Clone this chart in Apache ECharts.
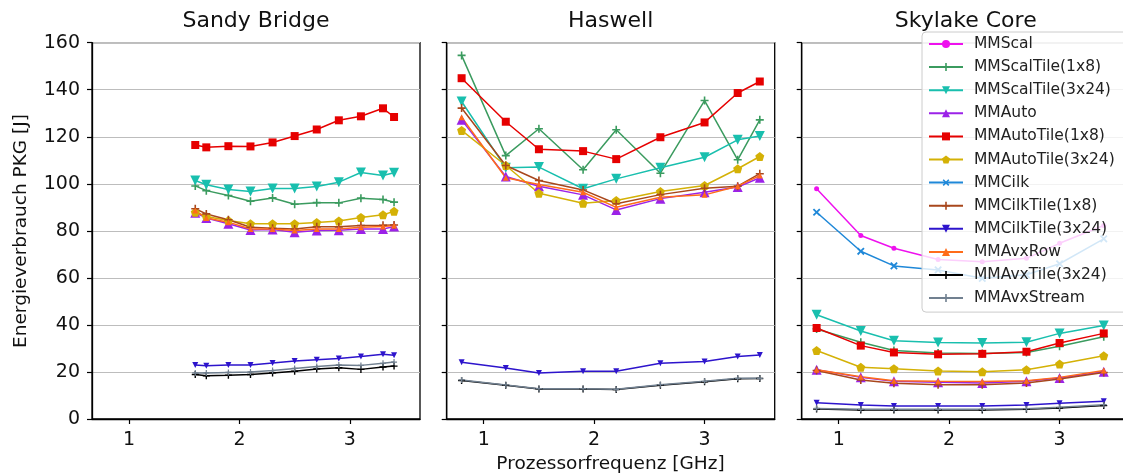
<!DOCTYPE html>
<html>
<head>
<meta charset="utf-8">
<script src="https://cdn.jsdelivr.net/npm/echarts@6/dist/echarts.min.js"></script>
<style>
html,body{margin:0;padding:0;background:#fff;}
#chart{width:1123px;height:475px;}
</style>
</head>
<body>
<div id="chart"></div>
<script>
// ---------- DATA ----------
const panelTitles = ["Sandy Bridge", "Haswell", "Skylake Core"];
const xTicks = [1, 2, 3];
const yTicks = [0, 20, 40, 60, 80, 100, 120, 140, 160];
const seriesNames = ["MMScal", "MMScalTile(1x8)", "MMScalTile(3x24)", "MMAuto", "MMAutoTile(1x8)",
  "MMAutoTile(3x24)", "MMCilk", "MMCilkTile(1x8)", "MMCilkTile(3x24)", "MMAvxRow", "MMAvxTile(3x24)", "MMAvxStream"];

// Sandy Bridge
const sandyFreq = [1.6, 1.7, 1.9, 2.1, 2.3, 2.5, 2.7, 2.9, 3.1, 3.3, 3.4];
const sandyScalTile1x8 = [99.1, 97.1, 95.0, 92.6, 94.0, 91.3, 92.0, 91.9, 93.9, 93.3, 92.2];
const sandyScalTile3x24 = [101.4, 99.6, 97.6, 96.7, 98.0, 98.0, 98.9, 100.7, 104.8, 103.5, 104.7];
const sandyAuto = [87.7, 85.5, 83.0, 80.4, 80.6, 79.4, 80.1, 80.3, 80.8, 80.8, 81.8];
const sandyAutoTile1x8 = [116.5, 115.5, 116.0, 115.9, 117.6, 120.3, 123.1, 127.0, 128.7, 132.1, 128.4];
const sandyAutoTile3x24 = [87.9, 86.1, 84.4, 83.0, 83.0, 83.0, 83.5, 84.2, 85.7, 86.8, 88.3];
const sandyCilkTile1x8 = [89.4, 87.2, 84.7, 81.5, 81.1, 80.8, 81.7, 81.7, 82.3, 82.4, 82.5];
const sandyCilkTile3x24 = [23.0, 22.6, 23.0, 23.0, 23.8, 24.7, 25.2, 25.7, 26.6, 27.5, 27.1];
const sandyAvxRow = [88.6, 85.5, 83.7, 80.8, 80.8, 80.1, 80.8, 80.8, 81.5, 81.8, 82.3];
const sandyAvxTile3x24 = [18.9, 18.4, 18.6, 18.9, 19.6, 20.3, 21.3, 21.8, 21.1, 22.1, 22.5];
const sandyAvxStream = [19.6, 19.6, 19.8, 20.0, 20.6, 21.5, 22.3, 23.0, 22.8, 23.7, 24.2];

// Haswell
const haswellFreq = [0.8, 1.2, 1.5, 1.9, 2.2, 2.6, 3.0, 3.3, 3.5];
const haswellScalTile1x8 = [154.6, 112.0, 123.4, 106.0, 123.0, 104.5, 135.4, 110.2, 127.2];
const haswellScalTile3x24 = [135.0, 106.8, 107.1, 97.9, 102.1, 106.8, 111.3, 118.7, 120.3];
const haswellAuto = [127.2, 103.1, 99.0, 95.3, 88.9, 93.7, 96.4, 98.6, 102.6];
const haswellAutoTile1x8 = [144.9, 126.4, 114.7, 113.9, 110.5, 119.8, 126.1, 138.6, 143.5];
const haswellAutoTile3x24 = [122.7, 107.8, 96.0, 91.7, 92.9, 96.7, 99.3, 106.4, 111.6];
const haswellCilkTile1x8 = [132.2, 107.8, 101.4, 97.4, 91.5, 95.4, 98.1, 99.0, 104.3];
const haswellCilkTile3x24 = [24.1, 21.7, 19.6, 20.3, 20.3, 23.7, 24.4, 26.6, 27.2];
const haswellAvxRow = [128.3, 102.6, 99.7, 96.4, 90.0, 94.3, 95.3, 99.0, 103.5];
const haswellAvxTile3x24 = [16.4, 14.3, 12.8, 12.8, 12.5, 14.4, 15.8, 17.1, 17.2];
const haswellAvxStream = [16.6, 14.5, 12.9, 12.9, 12.6, 14.6, 16.0, 17.3, 17.3];

// Skylake Core
const skylakeFreq = [0.8, 1.2, 1.5, 1.9, 2.3, 2.7, 3.0, 3.4];
const skylakeScal = [97.9, 78.0, 72.6, 67.8, 66.9, 68.3, 74.7, 82.3];
const skylakeScalTile1x8 = [38.3, 32.6, 29.1, 28.1, 27.9, 28.3, 30.9, 35.0];
const skylakeScalTile3x24 = [44.3, 37.4, 33.3, 32.5, 32.3, 32.6, 36.4, 39.8];
const skylakeAuto = [20.9, 17.7, 16.0, 15.6, 15.3, 16.0, 17.4, 20.1];
const skylakeAutoTile1x8 = [38.7, 31.2, 28.3, 27.5, 27.7, 28.6, 32.3, 36.4];
const skylakeAutoTile3x24 = [29.1, 22.0, 21.4, 20.4, 20.1, 20.9, 23.4, 26.9];
const skylakeCilk = [87.9, 71.3, 65.1, 63.4, 59.8, 61.3, 66.0, 76.6];
const skylakeCilkTile1x8 = [20.6, 16.6, 15.2, 14.6, 14.6, 15.3, 17.0, 19.8];
const skylakeCilkTile3x24 = [6.9, 6.0, 5.5, 5.5, 5.5, 6.0, 6.7, 7.5];
const skylakeAvxRow = [20.9, 18.0, 16.3, 16.0, 15.9, 16.3, 17.7, 20.6];
const skylakeAvxTile3x24 = [4.2, 3.8, 3.8, 3.8, 3.8, 4.1, 4.7, 5.7];
const skylakeAvxStream = [4.5, 4.1, 4.1, 4.1, 4.1, 4.4, 5.0, 6.1];

// ---------- STYLES ----------
const FONT = "DejaVu Sans";
const PLUS = 'path://M4,0H6V4H10V6H6V10H4V6H0V4H4Z';
const PENTA = 'path://M5,0L10,3.8L8.1,10L1.9,10L0,3.8Z';
const styles = {
  "MMScal":           {color: '#ee11ee', symbol: 'circle', size: 5, rot: 0},
  "MMScalTile(1x8)":  {color: '#3b9b5f', symbol: PLUS, size: 8, rot: 0},
  "MMScalTile(3x24)": {color: '#19bfae', symbol: 'triangle', size: 10, rot: 180},
  "MMAuto":           {color: '#9b22e8', symbol: 'triangle', size: 10, rot: 0},
  "MMAutoTile(1x8)":  {color: '#e60000', symbol: 'rect', size: 8, rot: 0},
  "MMAutoTile(3x24)": {color: '#d4b106', symbol: PENTA, size: 9, rot: 0},
  "MMCilk":           {color: '#1f88d8', symbol: PLUS, size: 9, rot: 45},
  "MMCilkTile(1x8)":  {color: '#a8471c', symbol: PLUS, size: 8, rot: 0},
  "MMCilkTile(3x24)": {color: '#2d14cc', symbol: 'triangle', size: 6, rot: 180},
  "MMAvxRow":         {color: '#ff6c1a', symbol: 'triangle', size: 6, rot: 0},
  "MMAvxTile(3x24)":  {color: '#000000', symbol: PLUS, size: 7, rot: 0},
  "MMAvxStream":      {color: '#718090', symbol: PLUS, size: 6, rot: 0}
};

const panels = [
  {freq: sandyFreq, vals: {
    "MMScalTile(1x8)": sandyScalTile1x8, "MMScalTile(3x24)": sandyScalTile3x24, "MMAuto": sandyAuto,
    "MMAutoTile(1x8)": sandyAutoTile1x8, "MMAutoTile(3x24)": sandyAutoTile3x24, "MMCilkTile(1x8)": sandyCilkTile1x8,
    "MMCilkTile(3x24)": sandyCilkTile3x24, "MMAvxRow": sandyAvxRow, "MMAvxTile(3x24)": sandyAvxTile3x24,
    "MMAvxStream": sandyAvxStream}},
  {freq: haswellFreq, vals: {
    "MMScalTile(1x8)": haswellScalTile1x8, "MMScalTile(3x24)": haswellScalTile3x24, "MMAuto": haswellAuto,
    "MMAutoTile(1x8)": haswellAutoTile1x8, "MMAutoTile(3x24)": haswellAutoTile3x24, "MMCilkTile(1x8)": haswellCilkTile1x8,
    "MMCilkTile(3x24)": haswellCilkTile3x24, "MMAvxRow": haswellAvxRow, "MMAvxTile(3x24)": haswellAvxTile3x24,
    "MMAvxStream": haswellAvxStream}},
  {freq: skylakeFreq, vals: {
    "MMScal": skylakeScal, "MMScalTile(1x8)": skylakeScalTile1x8, "MMScalTile(3x24)": skylakeScalTile3x24,
    "MMAuto": skylakeAuto, "MMAutoTile(1x8)": skylakeAutoTile1x8, "MMAutoTile(3x24)": skylakeAutoTile3x24,
    "MMCilk": skylakeCilk, "MMCilkTile(1x8)": skylakeCilkTile1x8, "MMCilkTile(3x24)": skylakeCilkTile3x24,
    "MMAvxRow": skylakeAvxRow, "MMAvxTile(3x24)": skylakeAvxTile3x24, "MMAvxStream": skylakeAvxStream}}
];

// ---------- LAYOUT ----------
const gridLefts = [92, 446.7, 801.7];
const gridW = 328, gridTop = 42.7, gridH = 376.3;
const xMin = 0.665, xMax = 3.635;

const grids = [], xAxes = [], yAxes = [], series = [];
panels.forEach((p, i) => {
  grids.push({left: gridLefts[i], top: gridTop, width: gridW, height: gridH,
    show: true, borderColor: '#000', borderWidth: 1.3, backgroundColor: 'transparent',
    containLabel: false, outerBoundsMode: 'none'});
  xAxes.push({type: 'value', gridIndex: i, min: xMin, max: xMax,
    axisLine: {show: true, onZero: false, lineStyle: {color: '#000', width: 1.3}},
    axisTick: {show: true, length: 5, customValues: xTicks, lineStyle: {color: '#000', width: 1.2}},
    axisLabel: {show: true, customValues: xTicks, margin: 12, fontFamily: FONT, fontSize: 19, color: '#111'},
    splitLine: {show: false}});
  yAxes.push({type: 'value', gridIndex: i, min: 0, max: 160, interval: 20,
    axisLine: {show: true, lineStyle: {color: '#000', width: 1.3}},
    axisTick: {show: true, length: 5, lineStyle: {color: '#000', width: 1.2}},
    axisLabel: {show: i === 0, margin: 12, fontFamily: FONT, fontSize: 19, color: '#111'},
    splitLine: {show: true, lineStyle: {color: '#bdbdbd', width: 1}}});
  seriesNames.forEach(name => {
    const v = p.vals[name];
    if (!v) return;
    const st = styles[name];
    series.push({type: 'line', name: name, xAxisIndex: i, yAxisIndex: i,
      data: p.freq.map((f, j) => [f, v[j]]),
      symbol: st.symbol, symbolSize: st.size, symbolRotate: st.rot, showAllSymbol: true,
      lineStyle: {color: st.color, width: 1.5},
      itemStyle: {color: st.color, borderWidth: 0},
      emphasis: {disabled: true}, animation: false});
  });
});

const chart = echarts.init(document.getElementById('chart'), null, {renderer: 'canvas'});
chart.setOption({
  animation: false,
  backgroundColor: '#fff',
  grid: grids, xAxis: xAxes, yAxis: yAxes, series: series,
  legend: {
    data: seriesNames, orient: 'vertical', left: 922, top: 32,
    backgroundColor: 'rgba(255,255,255,0.8)', borderColor: '#cccccc', borderWidth: 1, borderRadius: 4,
    padding: [4, 40, 6, 6], itemWidth: 34, itemHeight: 10, itemGap: 7.1,
    textStyle: {fontFamily: FONT, fontSize: 15.5, color: '#222', lineHeight: 16, padding: [0, 0, 0, 6]},
    selectedMode: false
  },
  graphic: [
    {type: 'text', x: 256, y: 21, style: {text: panelTitles[0], font: '22px "DejaVu Sans"', fill: '#111', textAlign: 'center', textVerticalAlign: 'middle'}},
    {type: 'text', x: 610.7, y: 21, style: {text: panelTitles[1], font: '22px "DejaVu Sans"', fill: '#111', textAlign: 'center', textVerticalAlign: 'middle'}},
    {type: 'text', x: 965.7, y: 21, style: {text: panelTitles[2], font: '22px "DejaVu Sans"', fill: '#111', textAlign: 'center', textVerticalAlign: 'middle'}},
    {type: 'text', x: 610.5, y: 464, style: {text: 'Prozessorfrequenz [GHz]', font: '18.5px "DejaVu Sans"', fill: '#111', textAlign: 'center', textVerticalAlign: 'middle'}},
    {type: 'text', x: 21, y: 231, rotation: Math.PI / 2, style: {text: 'Energieverbrauch PKG [J]', font: '18.5px "DejaVu Sans"', fill: '#111', textAlign: 'center', textVerticalAlign: 'middle'}}
  ]
});
</script>
</body>
</html>
